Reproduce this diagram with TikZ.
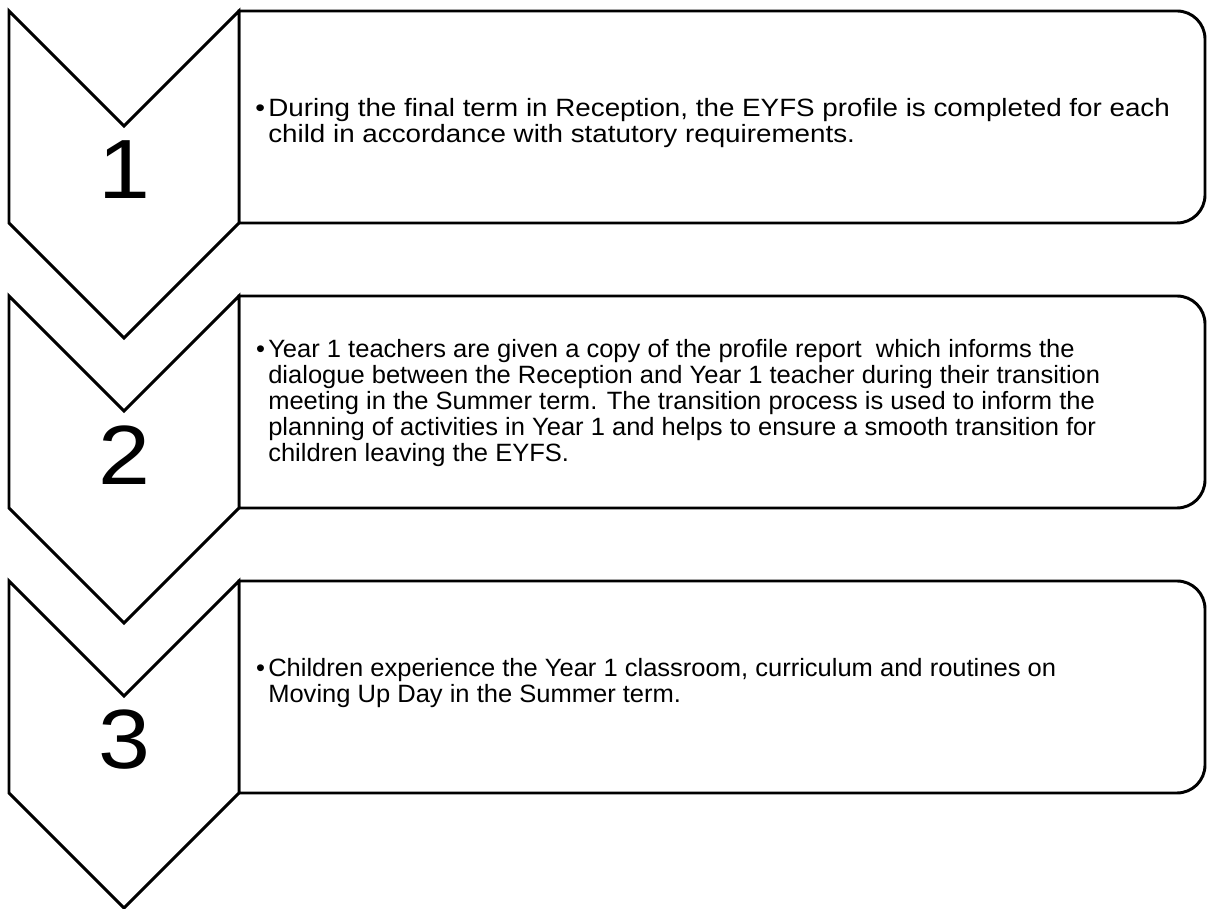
\documentclass[tikz,border=0pt]{standalone}
\usepackage{fontspec}
\setmainfont[FakeStretch=1.02]{Liberation Sans}
\newfontfamily\larga[FakeStretch=1.11]{Liberation Sans}

\begin{document}
\begin{tikzpicture}[
        linea/.style={draw=black, line width=2.1pt, fill=white},
        testo/.style={anchor=west, align=left, inner sep=0pt, font=\fontsize{17.8}{18.4}\selectfont},
        testolargo/.style={testo, font=\larga\fontsize{17.8}{18}\selectfont},
        numero/.style={inner sep=0pt, font=\larga\fontsize{59.8}{59.8}\selectfont}
    ]

        \useasboundingbox (0,0) rectangle (30.2,22.725);

        % Casella 1 (bordo destro arrotondato)
        \draw[linea] (5.975,22.45) -- (29.425,22.45) arc[start angle=90, end angle=0, radius=0.7]
            -- (30.125,17.85) arc[start angle=0, end angle=-90, radius=0.7] -- (5.975,17.15) -- cycle;

        % Casella 2
        \draw[linea] (5.975,15.325) -- (29.425,15.325) arc[start angle=90, end angle=0, radius=0.7]
            -- (30.125,10.725) arc[start angle=0, end angle=-90, radius=0.7] -- (5.975,10.025) -- cycle;

        % Casella 3
        \draw[linea] (5.975,8.2) -- (29.425,8.2) arc[start angle=90, end angle=0, radius=0.7]
            -- (30.125,3.6) arc[start angle=0, end angle=-90, radius=0.7] -- (5.975,2.9) -- cycle;

        % Freccia 1
        \draw[linea] (0.225,22.45) -- (3.1,19.575) -- (5.975,22.45) -- (5.975,17.15) -- (3.1,14.275) -- (0.225,17.15) -- cycle;

        % Freccia 2
        \draw[linea] (0.225,15.325) -- (3.1,12.45) -- (5.975,15.325) -- (5.975,10.025) -- (3.1,7.15) -- (0.225,10.025) -- cycle;

        % Freccia 3
        \draw[linea] (0.225,8.2) -- (3.1,5.325) -- (5.975,8.2) -- (5.975,2.9) -- (3.1,0.025) -- (0.225,2.9) -- cycle;

        % Numeri
        \node[numero] (n1) at (3.1,18.475) {1};
        \node[numero] (n2) at (3.1,11.35) {2};
        \node[numero] (n3) at (3.1,4.225) {3};

        % Testi
        \node[testolargo] (t1) at (6.7,19.65) {\llap{\textbullet\hspace{0.08cm}}During the final term in Reception, the EYFS profile is completed for each\\
            child in accordance with statutory requirements.};

        \node[testo] (t2) at (6.7,12.65) {\llap{\textbullet\hspace{0.08cm}}Year 1 teachers are given a copy of the profile report\ \ which informs the\\
            dialogue between the Reception and Year 1 teacher during their transition\\
            meeting in the Summer term. The transition process is used to inform the\\
            planning of activities in Year 1 and helps to ensure a smooth transition for\\
            children leaving the EYFS.};

        \node[testo] (t3) at (6.7,5.65) {\llap{\textbullet\hspace{0.08cm}}Children experience the Year 1 classroom, curriculum and routines on\\
            Moving Up Day in the Summer term.};

\end{tikzpicture}
\end{document}
